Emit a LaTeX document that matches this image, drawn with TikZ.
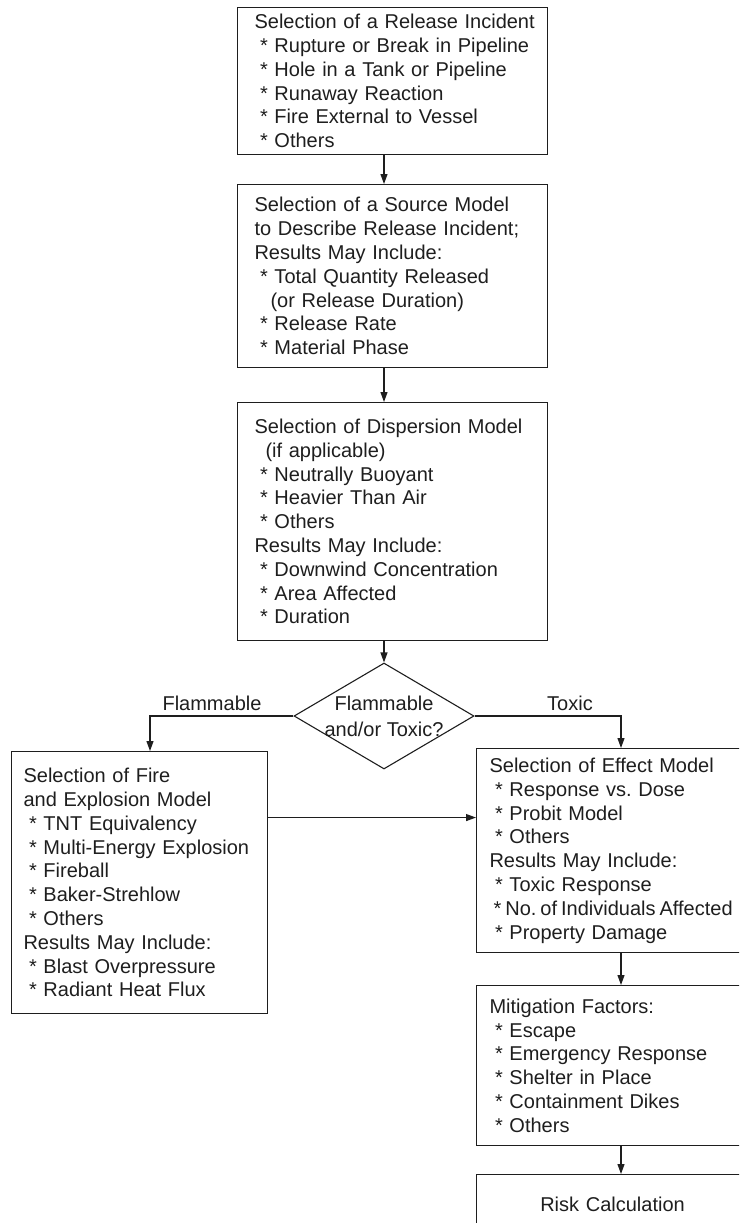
\documentclass[tikz,border=0pt]{standalone}
\usepackage{fontspec}
\setmainfont{Liberation Sans}
\usepackage{xcolor}
\usepackage{tikz}
\usetikzlibrary{shapes.geometric, arrows.meta}
\definecolor{inkgray}{RGB}{30,30,30}
\frenchspacing
\newcommand{\itm}{\hspace*{5.5pt}*~}
\newcommand{\indt}[1]{\hspace*{#1}}

\tikzset{
    stage/.style={draw=inkgray, line width=1.1pt, text=inkgray,
        anchor=north west, align=left, inner ysep=0pt,
        font=\fontsize{20}{23.8}\selectfont,
        execute at begin node={\hyphenpenalty=10000\exhyphenpenalty=10000}},
    decide/.style={draw=inkgray, line width=1.1pt, text=inkgray,
        shape=diamond, inner sep=-4pt, aspect=1.7,
        minimum width=180pt, minimum height=106pt, align=center,
        font=\fontsize{20}{26}\selectfont},
    lbl/.style={text=inkgray, font=\fontsize{20}{24}\selectfont},
    flow/.style={draw=inkgray, line width=1.1pt,
        -{Triangle[length=10pt,width=7pt]}}
}

\begin{document}
\begin{tikzpicture}[x=1pt, y=-1pt]

    \useasboundingbox (0,0) rectangle (739,1223);
    \clip (0,0) rectangle (739,1223);

    % CENTRE COLUMN: release, source, dispersion
    \node[stage, inner xsep=17pt, text width=276pt, minimum height=147pt]
        (rel) at (237,7)
        {Selection~of~a~Release~Incident\\
         \itm Rupture or Break in Pipeline\\
         \itm Hole in a Tank or Pipeline\\
         \itm Runaway Reaction\\
         \itm Fire External to Vessel\\
         \itm Others};
    \node[stage, inner xsep=17pt, text width=276pt, minimum height=183pt]
        (src) at (237,184)
        {Selection of a Source Model\\
         to Describe Release Incident;\\
         Results May Include:\\
         \itm Total Quantity Released\\
         \indt{16pt}(or Release Duration)\\
         \itm Release Rate\\
         \itm Material Phase};
    \node[stage, inner xsep=17pt, text width=276pt, minimum height=238pt]
        (disp) at (237,402)
        {Selection of Dispersion Model\\
         \indt{11pt}(if applicable)\\
         \itm Neutrally Buoyant\\
         \itm Heavier Than Air\\
         \itm Others\\
         Results May Include:\\
         \itm Downwind Concentration\\
         \itm Area Affected\\
         \itm Duration};

    % DECISION
    \node[decide] (dec) at (384,716) {Flammable\\ and/or Toxic?};
    \node[lbl] (flab) at (212,703) {Flammable};
    \node[lbl] (tlab) at (570,703) {Toxic};
    \coordinate (lcol) at (150,716);
    \coordinate (rcol) at (621,716);

    % LEFT BRANCH: fire and explosion
    \node[stage, inner xsep=12pt, text width=232pt, minimum height=262pt]
        (fire) at (11,751)
        {Selection of Fire\\
         and Explosion Model\\
         \itm TNT Equivalency\\
         \itm Multi-Energy~Explosion\\
         \itm Fireball\\
         \itm Baker-Strehlow\\
         \itm Others\\
         Results May Include:\\
         \itm Blast Overpressure\\
         \itm Radiant Heat Flux};

    % RIGHT BRANCH: effect, mitigation, risk
    \node[stage, inner xsep=13pt, text width=246pt, minimum height=204pt]
        (eff) at (476,748)
        {Selection of Effect Model\\
         \itm Response vs. Dose\\
         \itm Probit Model\\
         \itm Others\\
         Results May Include:\\
         \itm Toxic Response\\
         {\spaceskip=4pt\hspace*{4pt}*~No.~of~Individuals~Affected}\\
         \itm Property Damage};
    \node[stage, inner xsep=13pt, text width=246pt, minimum height=160pt]
        (mit) at (476,985)
        {Mitigation Factors:\\
         \itm Escape\\
         \itm Emergency Response\\
         \itm Shelter in Place\\
         \itm Containment Dikes\\
         \itm Others};
    \node[stage, inner xsep=13pt, text width=246pt, minimum height=60pt,
        align=center] (risk) at (476,1174) {Risk Calculation};

    % CONNECTORS
    \draw[flow] (rel.south -| dec) -- (src.north -| dec);
    \draw[flow] (src.south -| dec) -- (disp.north -| dec);
    \draw[flow] (disp.south -| dec) -- (dec.north);
    \draw[flow] (dec.west) -- (lcol) -- (lcol |- fire.north);
    \draw[flow] (dec.east) -- (rcol) -- (rcol |- eff.north);
    \coordinate (fx) at ([yshift=65pt]fire.east);
    \draw[flow] (fx) -- (fx -| eff.west);
    \draw[flow] (eff.south -| rcol) -- (mit.north -| rcol);
    \draw[flow] (mit.south -| rcol) -- (risk.north -| rcol);

\end{tikzpicture}
\end{document}
